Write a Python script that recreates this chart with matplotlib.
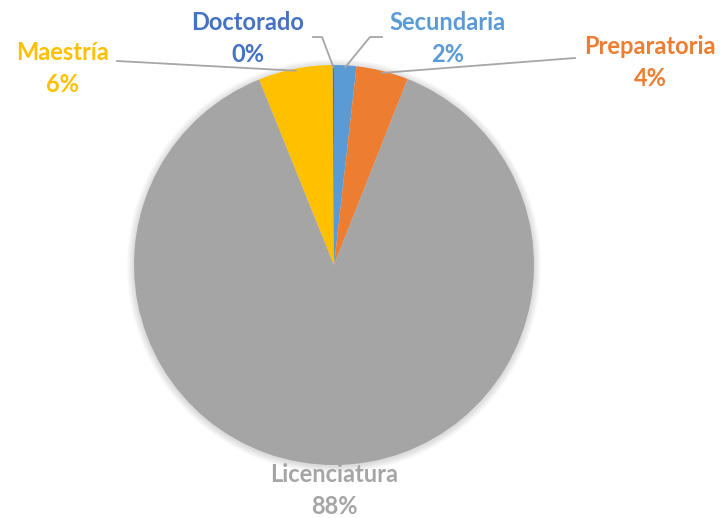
import numpy as np
import matplotlib
matplotlib.use('Agg')
import matplotlib.pyplot as plt
from matplotlib.patches import Circle

# datos (porcentaje de cada nivel)
niveles = ['Secundaria', 'Preparatoria', 'Licenciatura', 'Maestría', 'Doctorado']
valores = [1.8, 4.2, 87.9, 6.0, 0.1]
colores = ['#5B9BD5', '#ED7D31', '#A5A5A5', '#FFC000', '#4472C4']

W, H = 721, 518
fig = plt.figure(figsize=(W / 100, H / 100), dpi=100)
ax = fig.add_axes([0, 0, 1, 1])

cx, cy, r = 334, H - 265, 200

# sombra suave alrededor del pastel
for k in range(1, 8):
    ax.add_patch(Circle((cx, cy - 1), r + k, color='black', alpha=0.018, lw=0, zorder=0))

wedges, _ = ax.pie(valores, colors=colores, startangle=90, counterclock=False,
                   center=(cx, cy), radius=r, frame=True,
                   wedgeprops=dict(linewidth=0))
ax.set_xlim(0, W)
ax.set_ylim(0, H)
ax.axis('off')

# posiciones de etiquetas (pixeles de la imagen) y codos de las guias
pos_txt = {
    'Secundaria': (448, 22),
    'Preparatoria': (650, 47),
    'Licenciatura': (334, 474),
    'Maestría': (62, 52),
    'Doctorado': (248, 22),
}
guias = {
    'Secundaria': [(370, 37), (382, 37)],
    'Preparatoria': [(575, 58)],
    'Maestría': [(117, 61)],
    'Doctorado': [(322, 37), (313, 37)],
}

fuente = ['Lato', 'DejaVu Sans']
for w, nombre, val, col in zip(wedges, niveles, valores, colores):
    tx, ty = pos_txt[nombre]
    ax.text(tx, H - ty, nombre, color=col, fontsize=17, fontweight='bold',
            family=fuente, ha='center', va='center')
    ax.text(tx, H - ty - 32, '%d%%' % round(val), color=col, fontsize=17,
            fontweight='bold', family=fuente, ha='center', va='center')
    if nombre in guias:
        ang = np.deg2rad((w.theta1 + w.theta2) / 2)
        x0 = cx + (r - 2) * np.cos(ang)
        y0 = cy + (r - 2) * np.sin(ang)
        xs = [x0] + [p[0] for p in guias[nombre]]
        ys = [y0] + [H - p[1] for p in guias[nombre]]
        ax.plot(xs, ys, color='#A6A6A6', lw=1.3, zorder=3)

fig.savefig('out.png', dpi=100)
